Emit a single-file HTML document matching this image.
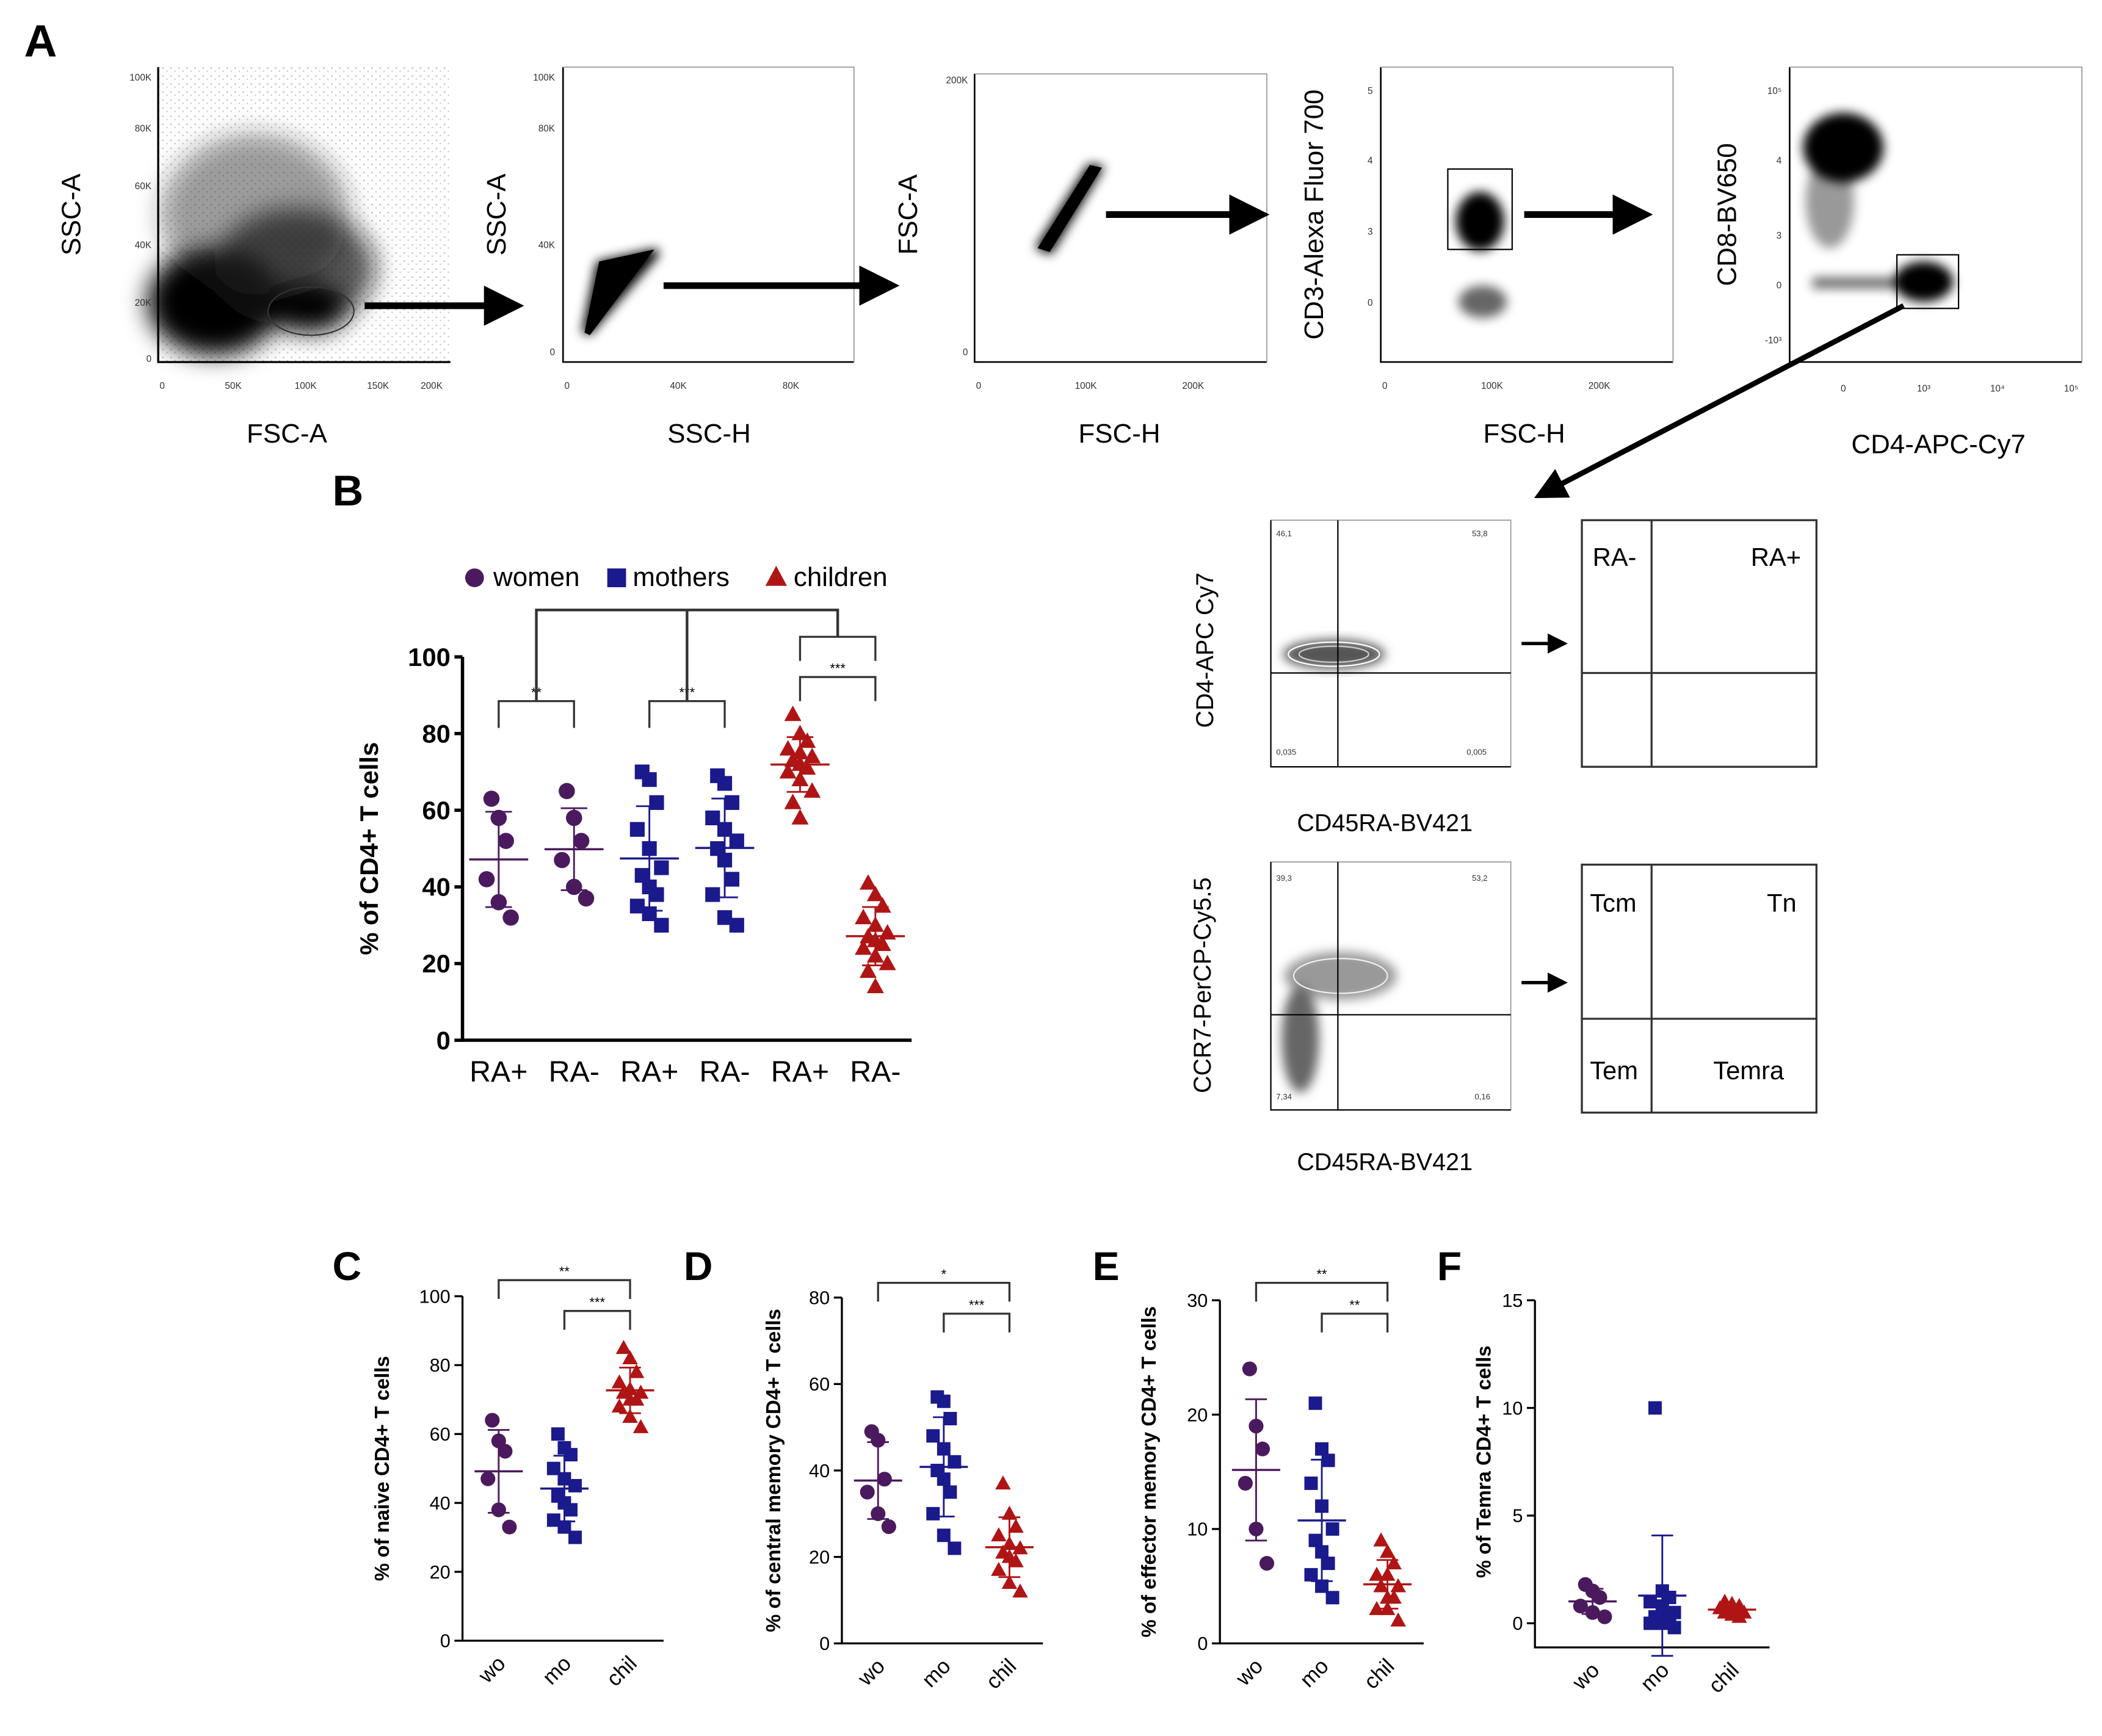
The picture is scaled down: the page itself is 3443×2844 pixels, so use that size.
<!DOCTYPE html>
<html><head><meta charset="utf-8">
<style>
html,body{margin:0;padding:0;background:#fff;}
svg{display:block;font-family:"Liberation Sans",Arial,sans-serif;}
</style></head>
<body>
<svg id="fig" width="3443" height="2844" viewBox="0 0 1568 1295" xmlns="http://www.w3.org/2000/svg">
<defs>
<filter id="blur2" x="-30%" y="-30%" width="160%" height="160%"><feGaussianBlur stdDeviation="4"/></filter>
<filter id="blur6" x="-30%" y="-30%" width="160%" height="160%"><feGaussianBlur stdDeviation="9"/></filter>
<pattern id="speck" width="6" height="6" patternUnits="userSpaceOnUse"><rect x="1" y="2" width="1.2" height="1.2" fill="#000"/><rect x="4" y="4.5" width="1" height="1" fill="#000"/></pattern>
<marker id="ah" markerWidth="6" markerHeight="6" refX="3" refY="3" orient="auto"><path d="M0,0 L6,3 L0,6 z" fill="#000"/></marker>
</defs>
<rect width="1568" height="1295" fill="#fff"/>

<text x="18" y="42" font-size="34" font-weight="bold">A</text>

<g>
<rect x="118" y="50" width="218" height="220" fill="url(#speck)" opacity="0.22"/>
<g filter="url(#blur6)"><ellipse cx="160" cy="225" rx="50" ry="40" fill="#000"/><ellipse cx="220" cy="200" rx="60" ry="45" fill="#111" opacity="0.7"/><ellipse cx="230" cy="230" rx="30" ry="18" fill="#000"/><ellipse cx="190" cy="160" rx="70" ry="60" fill="#222" opacity="0.45"/></g>
<ellipse cx="232" cy="232" rx="32" ry="18" fill="none" stroke="#333" stroke-width="1"/>
<path d="M118,50 V270 H336" fill="none" stroke="#000" stroke-width="1.5"/>
<g font-size="7" fill="#333" text-anchor="end"><text x="113" y="60">100K</text><text x="113" y="98">80K</text><text x="113" y="141">60K</text><text x="113" y="185">40K</text><text x="113" y="228">20K</text><text x="113" y="270">0</text></g>
<g font-size="7" fill="#333" text-anchor="middle"><text x="121" y="290">0</text><text x="174" y="290">50K</text><text x="228" y="290">100K</text><text x="282" y="290">150K</text><text x="322" y="290">200K</text></g>
<text x="60" y="160" font-size="20" transform="rotate(-90 60 160)" text-anchor="middle">SSC-A</text>
<text x="214" y="330" font-size="20" text-anchor="middle">FSC-A</text>
</g>

<g>
<path d="M434,248 L445,195 L490,185 L492,190 L440,250 z" fill="#000" filter="url(#blur2)"/>
<path d="M436,248 L447,195 L488,186 L440,250 z" fill="#000"/>
<path d="M420,50 V270 H637" fill="none" stroke="#000" stroke-width="1.2"/>
<path d="M420,50 H637 V270" fill="none" stroke="#999" stroke-width="0.8"/>
<g font-size="7" fill="#333" text-anchor="end"><text x="414" y="60">100K</text><text x="414" y="98">80K</text><text x="414" y="185">40K</text><text x="414" y="265">0</text></g>
<g font-size="7" fill="#333" text-anchor="middle"><text x="423" y="290">0</text><text x="506" y="290">40K</text><text x="590" y="290">80K</text></g>
<text x="377" y="160" font-size="20" transform="rotate(-90 377 160)" text-anchor="middle">SSC-A</text>
<text x="529" y="330" font-size="20" text-anchor="middle">SSC-H</text>
</g>

<g>
<path d="M772,185 L812,122 L824,124 L784,190 z" fill="#000" filter="url(#blur2)"/>
<path d="M774,185 L813,123 L822,125 L783,188 z" fill="#000"/>
<path d="M727,55 V270 H945" fill="none" stroke="#000" stroke-width="1.2"/>
<path d="M727,55 H945 V270" fill="none" stroke="#999" stroke-width="0.8"/>
<g font-size="7" fill="#333" text-anchor="end"><text x="722" y="62">200K</text><text x="722" y="265">0</text></g>
<g font-size="7" fill="#333" text-anchor="middle"><text x="730" y="290">0</text><text x="810" y="290">100K</text><text x="890" y="290">200K</text></g>
<text x="684" y="160" font-size="20" transform="rotate(-90 684 160)" text-anchor="middle">FSC-A</text>
<text x="835" y="330" font-size="20" text-anchor="middle">FSC-H</text>
</g>

<g>
<g filter="url(#blur2)"><ellipse cx="1104" cy="165" rx="18" ry="22" fill="#000"/><ellipse cx="1106" cy="225" rx="18" ry="12" fill="#000" opacity="0.6"/></g>
<rect x="1080" y="126" width="48" height="60" fill="none" stroke="#000" stroke-width="1"/>
<path d="M1030,50 V270 H1248" fill="none" stroke="#000" stroke-width="1.2"/>
<path d="M1030,50 H1248 V270" fill="none" stroke="#999" stroke-width="0.8"/>
<g font-size="7" fill="#333" text-anchor="end"><text x="1024" y="70">5</text><text x="1024" y="122">4</text><text x="1024" y="175">3</text><text x="1024" y="228">0</text></g>
<g font-size="7" fill="#333" text-anchor="middle"><text x="1033" y="290">0</text><text x="1113" y="290">100K</text><text x="1193" y="290">200K</text></g>
<text x="987" y="160" font-size="20" transform="rotate(-90 987 160)" text-anchor="middle">CD3-Alexa Fluor 700</text>
<text x="1137" y="330" font-size="20" text-anchor="middle">FSC-H</text>
</g>

<g>
<g filter="url(#blur2)"><ellipse cx="1375" cy="110" rx="30" ry="26" fill="#000"/><ellipse cx="1435" cy="210" rx="22" ry="15" fill="#000"/><rect x="1352" y="207" width="80" height="8" fill="#000" opacity="0.6"/><ellipse cx="1365" cy="150" rx="18" ry="35" fill="#000" opacity="0.4"/></g>
<rect x="1415" y="190" width="46" height="40" fill="none" stroke="#000" stroke-width="1"/>
<path d="M1335,50 V270 H1553" fill="none" stroke="#000" stroke-width="1.2"/>
<path d="M1335,50 H1553 V270" fill="none" stroke="#999" stroke-width="0.8"/>
<g font-size="7" fill="#333" text-anchor="end"><text x="1329" y="70">10⁵</text><text x="1329" y="122">4</text><text x="1329" y="178">3</text><text x="1329" y="215">0</text><text x="1329" y="256">-10³</text></g>
<g font-size="7" fill="#333" text-anchor="middle"><text x="1375" y="292">0</text><text x="1435" y="292">10³</text><text x="1490" y="292">10⁴</text><text x="1545" y="292">10⁵</text></g>
<text x="1295" y="160" font-size="20" transform="rotate(-90 1295 160)" text-anchor="middle">CD8-BV650</text>
<text x="1446" y="338" font-size="20" text-anchor="middle">CD4-APC-Cy7</text>
</g>

<g stroke="#000" stroke-width="5">
<line x1="272" y1="228" x2="376" y2="228" marker-end="url(#ah)"/>
<line x1="495" y1="213" x2="656" y2="213" marker-end="url(#ah)"/>
<line x1="825" y1="160" x2="932" y2="160" marker-end="url(#ah)"/>
<line x1="1137" y1="160" x2="1218" y2="160" marker-end="url(#ah)"/>
<line x1="1420" y1="228" x2="1155" y2="366" stroke-width="4" marker-end="url(#ah)"/>
</g>

<g>
<rect x="948" y="388" width="179" height="184" fill="none" stroke="#999" stroke-width="0.8"/>
<path d="M948,388 V572 H1127" fill="none" stroke="#000" stroke-width="1"/>
<g filter="url(#blur2)"><ellipse cx="995" cy="488" rx="38" ry="11" fill="#555"/></g>
<ellipse cx="995" cy="488" rx="34" ry="9" fill="none" stroke="#fff" stroke-width="1"/>
<ellipse cx="995" cy="488" rx="26" ry="6" fill="none" stroke="#ccc" stroke-width="1"/>
<line x1="998" y1="388" x2="998" y2="572" stroke="#000"/><line x1="948" y1="502" x2="1127" y2="502" stroke="#000"/>
<g font-size="6" fill="#333"><text x="952" y="400">46,1</text><text x="1098" y="400">53,8</text><text x="952" y="563">0,035</text><text x="1094" y="563">0,005</text></g>
<text x="905" y="485" font-size="18" transform="rotate(-90 905 485)" text-anchor="middle">CD4-APC Cy7</text>
<text x="1033" y="620" font-size="18" text-anchor="middle">CD45RA-BV421</text>
</g>
<g>
<rect x="948" y="643" width="179" height="185" fill="none" stroke="#999" stroke-width="0.8"/>
<path d="M948,643 V828 H1127" fill="none" stroke="#000" stroke-width="1"/>
<g filter="url(#blur2)"><ellipse cx="1000" cy="728" rx="42" ry="18" fill="#999"/><ellipse cx="970" cy="775" rx="14" ry="40" fill="#666"/></g>
<ellipse cx="1000" cy="728" rx="35" ry="13" fill="none" stroke="#eee" stroke-width="1"/>
<line x1="998" y1="643" x2="998" y2="828" stroke="#000"/><line x1="948" y1="757" x2="1127" y2="757" stroke="#000"/>
<g font-size="6" fill="#333"><text x="952" y="657">39,3</text><text x="1098" y="657">53,2</text><text x="952" y="820">7,34</text><text x="1100" y="820">0,16</text></g>
<text x="903" y="735" font-size="18" transform="rotate(-90 903 735)" text-anchor="middle">CCR7-PerCP-Cy5.5</text>
<text x="1033" y="873" font-size="18" text-anchor="middle">CD45RA-BV421</text>
</g>
<g stroke="#000" stroke-width="2.5">
<line x1="1135" y1="480" x2="1162" y2="480" marker-end="url(#ah)"/>
<line x1="1135" y1="733" x2="1162" y2="733" marker-end="url(#ah)"/>
</g>
<g fill="none" stroke="#333" stroke-width="1.5">
<rect x="1180" y="388" width="175" height="184"/><line x1="1232" y1="388" x2="1232" y2="572"/><line x1="1180" y1="502" x2="1355" y2="502"/>
</g>
<g font-size="19"><text x="1188" y="422">RA-</text><text x="1306" y="422">RA+</text></g>
<g fill="none" stroke="#333" stroke-width="1.5">
<rect x="1180" y="645" width="175" height="185"/><line x1="1232" y1="645" x2="1232" y2="830"/><line x1="1180" y1="760" x2="1355" y2="760"/>
</g>
<g font-size="19"><text x="1186" y="680">Tcm</text><text x="1318" y="680">Tn</text><text x="1186" y="805">Tem</text><text x="1278" y="805">Temra</text></g>

<text x="248" y="377" font-size="32" font-weight="bold">B</text>
<g font-size="20">
<circle cx="354" cy="431" r="7" fill="#4b1a5e"/><text x="368" y="437">women</text>
<rect x="453" y="424" width="14" height="14" fill="#1a1a8c"/><text x="472" y="437">mothers</text>
<path d="M579,422 L587,437 L571,437 z" fill="#b01515"/><text x="592" y="437">children</text>
</g>
<g id="chartB"></g>

<text x="248" y="955" font-size="30" font-weight="bold">C</text>
<text x="510" y="955" font-size="30" font-weight="bold">D</text>
<text x="815" y="955" font-size="30" font-weight="bold">E</text>
<text x="1072" y="955" font-size="30" font-weight="bold">F</text>
<g id="chartC"></g>
<g id="chartD"></g>
<g id="chartE"></g>
<g id="chartF"></g>
</svg>
<script>
const colors = ["#4b1a5e", "#1a1a8c", "#b01515"];
const bCategories = ["RA+", "RA-", "RA+", "RA-", "RA+", "RA-"];
const bWomenRAp = [63, 58, 52, 42, 36, 32];
const bWomenRAm = [65, 58, 52, 47, 40, 37];
const bMothersRAp = [70, 68, 62, 55, 50, 45, 43, 40, 38, 35, 33, 30];
const bMothersRAm = [69, 67, 62, 58, 55, 52, 50, 47, 42, 38, 32, 30];
const bChildrenRAp = [85, 80, 78, 76, 75, 74, 73, 72, 71, 70, 68, 65, 62, 58];
const bChildrenRAm = [41, 38, 35, 32, 30, 28, 27, 26, 25, 24, 22, 20, 18, 14];
const bTicks = [0, 20, 40, 60, 80, 100];

const subsetCategories = ["wo", "mo", "chil"];
const cWomen = [64, 58, 55, 47, 38, 33];
const cMothers = [60, 56, 54, 50, 47, 45, 42, 40, 38, 35, 33, 30];
const cChildren = [85, 82, 78, 75, 73, 72, 72, 70, 70, 68, 65, 62];
const cTicks = [0, 20, 40, 60, 80, 100];
const dWomen = [49, 47, 38, 35, 30, 27];
const dMothers = [57, 56, 52, 48, 45, 42, 40, 38, 35, 30, 25, 22];
const dChildren = [37, 30, 27, 25, 23, 22, 21, 20, 19, 17, 14, 12];
const dTicks = [0, 20, 40, 60, 80];
const eWomen = [24, 19, 17, 14, 10, 7];
const eMothers = [21, 17, 16, 14, 12, 10, 9, 8, 7, 6, 5, 4];
const eChildren = [9, 8, 7, 6, 6, 5, 5, 4, 4, 3, 3, 2];
const eTicks = [0, 10, 20, 30];
const fWomen = [1.8, 1.5, 1.2, 0.8, 0.5, 0.3];
const fMothers = [10, 1.5, 1.2, 1.0, 0.8, 0.5, 0.3, 0.2, 0.1, 0, 0, -0.2];
const fChildren = [1, 0.9, 0.8, 0.7, 0.6, 0.5, 0.5, 0.4, 0.3];
const fTicks = [0, 5, 10, 15];

const NS = "http://www.w3.org/2000/svg";
function mk(parent, tag, attrs) {
  const e = document.createElementNS(NS, tag);
  for (const k in attrs) e.setAttribute(k, attrs[k]);
  parent.appendChild(e);
  return e;
}
function mean(a) { return a.reduce((s, v) => s + v, 0) / a.length; }
function sd(a) { const m = mean(a); return Math.sqrt(a.reduce((s, v) => s + (v - m) * (v - m), 0) / (a.length - 1)); }

function marker(g, kind, x, y, col, s) {
  let e;
  if (kind === 0) e = mk(g, "circle", { cx: x, cy: y, r: s * 0.55, fill: col });
  else if (kind === 1) e = mk(g, "rect", { x: x - s / 2, y: y - s / 2, width: s, height: s, fill: col });
  else e = mk(g, "path", { d: `M${x},${y - s * 0.6} L${x + s * 0.58},${y + s * 0.45} L${x - s * 0.58},${y + s * 0.45} z`, fill: col });
  
  
}

function drawPanel(g, opt) {
  const ymin = opt.ticks[0], ymax = opt.ticks[opt.ticks.length - 1];
  const yS = v => opt.y0 - (v - ymin) / (ymax - ymin) * (opt.y0 - opt.y1);
  const xS = i => opt.xStart + i * opt.step;
  const axis = mk(g, "path", { d: `M${opt.xa},${opt.y1} V${opt.y0 + opt.axOff} H${opt.xe}`, fill: "none", stroke: "#000", "stroke-width": opt.lw });
  
  
  opt.ticks.forEach(t => {
    const tk = mk(g, "line", { x1: opt.xa - 6, x2: opt.xa, y1: yS(t), y2: yS(t), stroke: "#000", "stroke-width": opt.lw });
    
    
    const tl = mk(g, "text", { x: opt.xa - 9, y: yS(t) + opt.fs * 0.35, "font-size": opt.fs, "text-anchor": "end", "font-weight": opt.bold ? "bold" : "normal" });
    tl.textContent = t;
    
    
  });
  opt.series.forEach((vals, i) => {
    const x = xS(i), col = colors[opt.grp[i]];
    const sg = mk(g, "g", {});
    
    
    vals.forEach((v, j) => {
      const off = ((j % 3) - 1) * opt.jit * (j % 2 ? 1 : 0.6);
      marker(sg, opt.grp[i], x + off, yS(v), col, opt.ms);
    });
    const m = mean(vals), s = sd(vals);
    const lo = m - s;
    mk(sg, "line", { x1: x - opt.mw, x2: x + opt.mw, y1: yS(m), y2: yS(m), stroke: col, "stroke-width": 1.6 });
    mk(sg, "line", { x1: x, x2: x, y1: yS(m + s), y2: yS(lo), stroke: col, "stroke-width": 1.3 });
    mk(sg, "line", { x1: x - opt.mw * 0.45, x2: x + opt.mw * 0.45, y1: yS(m + s), y2: yS(m + s), stroke: col, "stroke-width": 1.3 });
    mk(sg, "line", { x1: x - opt.mw * 0.45, x2: x + opt.mw * 0.45, y1: yS(lo), y2: yS(lo), stroke: col, "stroke-width": 1.3 });
    const lab = mk(g, "text", {});
    
    
    lab.textContent = opt.cats[i];
    if (opt.rot) {
      lab.setAttribute("x", x + 6); lab.setAttribute("y", opt.y0 + opt.axOff + 18);
      lab.setAttribute("font-size", opt.fs + 2); lab.setAttribute("text-anchor", "end");
      lab.setAttribute("transform", `rotate(-45 ${x + 6} ${opt.y0 + opt.axOff + 18})`);
    } else {
      lab.setAttribute("x", x); lab.setAttribute("y", opt.y0 + 31);
      lab.setAttribute("font-size", 22); lab.setAttribute("text-anchor", "middle");
    }
  });
  const yt = mk(g, "text", { x: opt.ytx, y: (opt.y0 + opt.y1) / 2, "font-size": opt.yfs, "font-weight": "bold", "text-anchor": "middle", transform: `rotate(-90 ${opt.ytx} ${(opt.y0 + opt.y1) / 2})` });
  yt.textContent = opt.ytitle;
  
  
  return { xS, yS };
}

function bracket(g, x1, x2, yTop, drop, label, col) {
  const p = mk(g, "path", { d: `M${x1},${yTop + drop} V${yTop} H${x2} V${yTop + drop}`, fill: "none", stroke: col || "#333", "stroke-width": 1.5 });
  
  
  const t = mk(g, "text", { x: (x1 + x2) / 2, y: yTop - 3, "font-size": 10, "text-anchor": "middle" });
  t.textContent = label;
  
  
}

const gB = document.getElementById("chartB");
const B = drawPanel(gB, {
  y0: 776, y1: 490, xa: 345, xe: 680, axOff: 0, lw: 2.5, ticks: bTicks, fs: 19, bold: true,
  xStart: 372, step: 56.2, cats: bCategories, grp: [0, 0, 1, 1, 2, 2],
  series: [bWomenRAp, bWomenRAm, bMothersRAp, bMothersRAm, bChildrenRAp, bChildrenRAm],
  jit: 9, ms: 11, mw: 22, ytx: 282, yfs: 19, ytitle: "% of CD4+ T cells"
});
bracket(gB, B.xS(0), B.xS(1), 523, 20, "**", "#333");
bracket(gB, B.xS(2), B.xS(3), 523, 20, "***", "#333");
bracket(gB, B.xS(4), B.xS(5), 505, 18, "***", "#333");
bracket(gB, B.xS(4), B.xS(5), 475, 18, "", "#333");
const topBracket = mk(gB, "path", { d: `M${(B.xS(0) + B.xS(1)) / 2},523 V455 H${(B.xS(4) + B.xS(5)) / 2} V475 M${(B.xS(2) + B.xS(3)) / 2},523 V455`, fill: "none", stroke: "#333", "stroke-width": 2 });



const gC = document.getElementById("chartC");
const C = drawPanel(gC, {
  y0: 1224, y1: 967, xa: 345, xe: 495, axOff: 0, lw: 1.5, ticks: cTicks, fs: 14, bold: false,
  xStart: 372, step: 49, cats: subsetCategories, grp: [0, 1, 2], series: [cWomen, cMothers, cChildren],
  jit: 8, ms: 10, mw: 18, ytx: 290, yfs: 15, ytitle: "% of naive CD4+ T cells", rot: true
});
bracket(gC, C.xS(0), C.xS(2), 955, 14, "**");
bracket(gC, C.xS(1), C.xS(2), 978, 14, "***");

const gD = document.getElementById("chartD");
const D = drawPanel(gD, {
  y0: 1226, y1: 968, xa: 628, xe: 778, axOff: 0, lw: 1.5, ticks: dTicks, fs: 14, bold: false,
  xStart: 655, step: 49, cats: subsetCategories, grp: [0, 1, 2], series: [dWomen, dMothers, dChildren],
  jit: 8, ms: 10, mw: 18, ytx: 582, yfs: 15, ytitle: "% of central memory CD4+ T cells", rot: true
});
bracket(gD, D.xS(0), D.xS(2), 957, 14, "*");
bracket(gD, D.xS(1), D.xS(2), 980, 14, "***");

const gE = document.getElementById("chartE");
const E = drawPanel(gE, {
  y0: 1226, y1: 970, xa: 910, xe: 1062, axOff: 0, lw: 1.5, ticks: eTicks, fs: 14, bold: false,
  xStart: 937, step: 49, cats: subsetCategories, grp: [0, 1, 2], series: [eWomen, eMothers, eChildren],
  jit: 8, ms: 10, mw: 18, ytx: 862, yfs: 15, ytitle: "% of effector memory CD4+ T cells", rot: true
});
bracket(gE, E.xS(0), E.xS(2), 957, 14, "**");
bracket(gE, E.xS(1), E.xS(2), 980, 14, "**");

const gF = document.getElementById("chartF");
drawPanel(gF, {
  y0: 1211, y1: 970, xa: 1145, xe: 1320, axOff: 18, lw: 1.5, ticks: fTicks, fs: 14, bold: false,
  xStart: 1188, step: 52, cats: subsetCategories, grp: [0, 1, 2], series: [fWomen, fMothers, fChildren],
  jit: 9, ms: 10, mw: 18, ytx: 1112, yfs: 15, ytitle: "% of Temra CD4+ T cells", rot: true
});
</script>
</body></html>
